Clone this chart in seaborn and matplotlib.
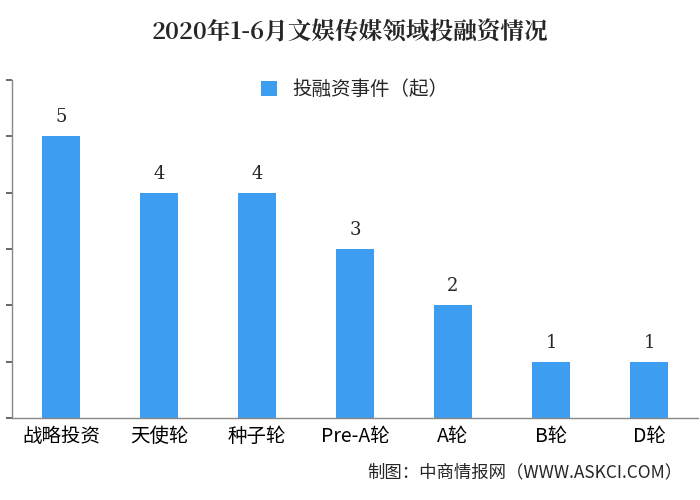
import matplotlib
matplotlib.use("Agg")
import matplotlib.pyplot as plt
import seaborn as sns
import pandas as pd

categories = ["战略投资", "天使轮", "种子轮", "Pre-A轮", "A轮", "B轮", "D轮"]
values = [5, 4, 4, 3, 2, 1, 1]
series_name = "投融资事件（起）"
title = "2020年1-6月文娱传媒领域投融资情况"
source = "制图：中商情报网（WWW.ASKCI.COM）"

sns.set_theme(style="white")
plt.rcParams['font.family'] = ['Noto Sans CJK SC', 'DejaVu Sans']

df = pd.DataFrame({"cat": categories, "val": values})
fig = plt.figure(figsize=(7, 5), dpi=100)
ax = fig.add_axes([12/700, 82/500, 686/700, 338/500])
sns.barplot(data=df, x="cat", y="val", color="#3d9df0", width=0.39, ax=ax, saturation=1,
            label=series_name, linewidth=0)
ax.set_ylim(0, 6)
ax.set_xlim(-0.5, 6.5)
ax.set_yticks(range(7))
ax.set_yticklabels([])
ax.tick_params(axis="y", left=True, length=4, direction="out", colors="#555555")
ax.tick_params(axis="x", length=0, labelsize=14, pad=6, colors="black")
ax.set_xlabel(""); ax.set_ylabel("")
for s in ["top", "right"]:
    ax.spines[s].set_visible(False)
for s in ["left", "bottom"]:
    ax.spines[s].set_color("#888888")
    ax.spines[s].set_linewidth(1)
for i, v in enumerate(values):
    ax.text(i, v + 0.18, str(v), ha="center", va="bottom", fontsize=13, family="DejaVu Serif")
ax.legend(loc="upper center", bbox_to_anchor=(0.5, 1.055), frameon=False, fontsize=14, handlelength=0.8, handleheight=0.8)
fig.text(0.5, 0.935, title, ha="center", va="center", fontsize=17, fontweight="bold", family=['Noto Serif CJK SC', 'Noto Sans CJK SC'])
fig.text(0.975, 0.055, source, ha="right", va="center", fontsize=12.5)
fig.savefig("out.png", dpi=100)
